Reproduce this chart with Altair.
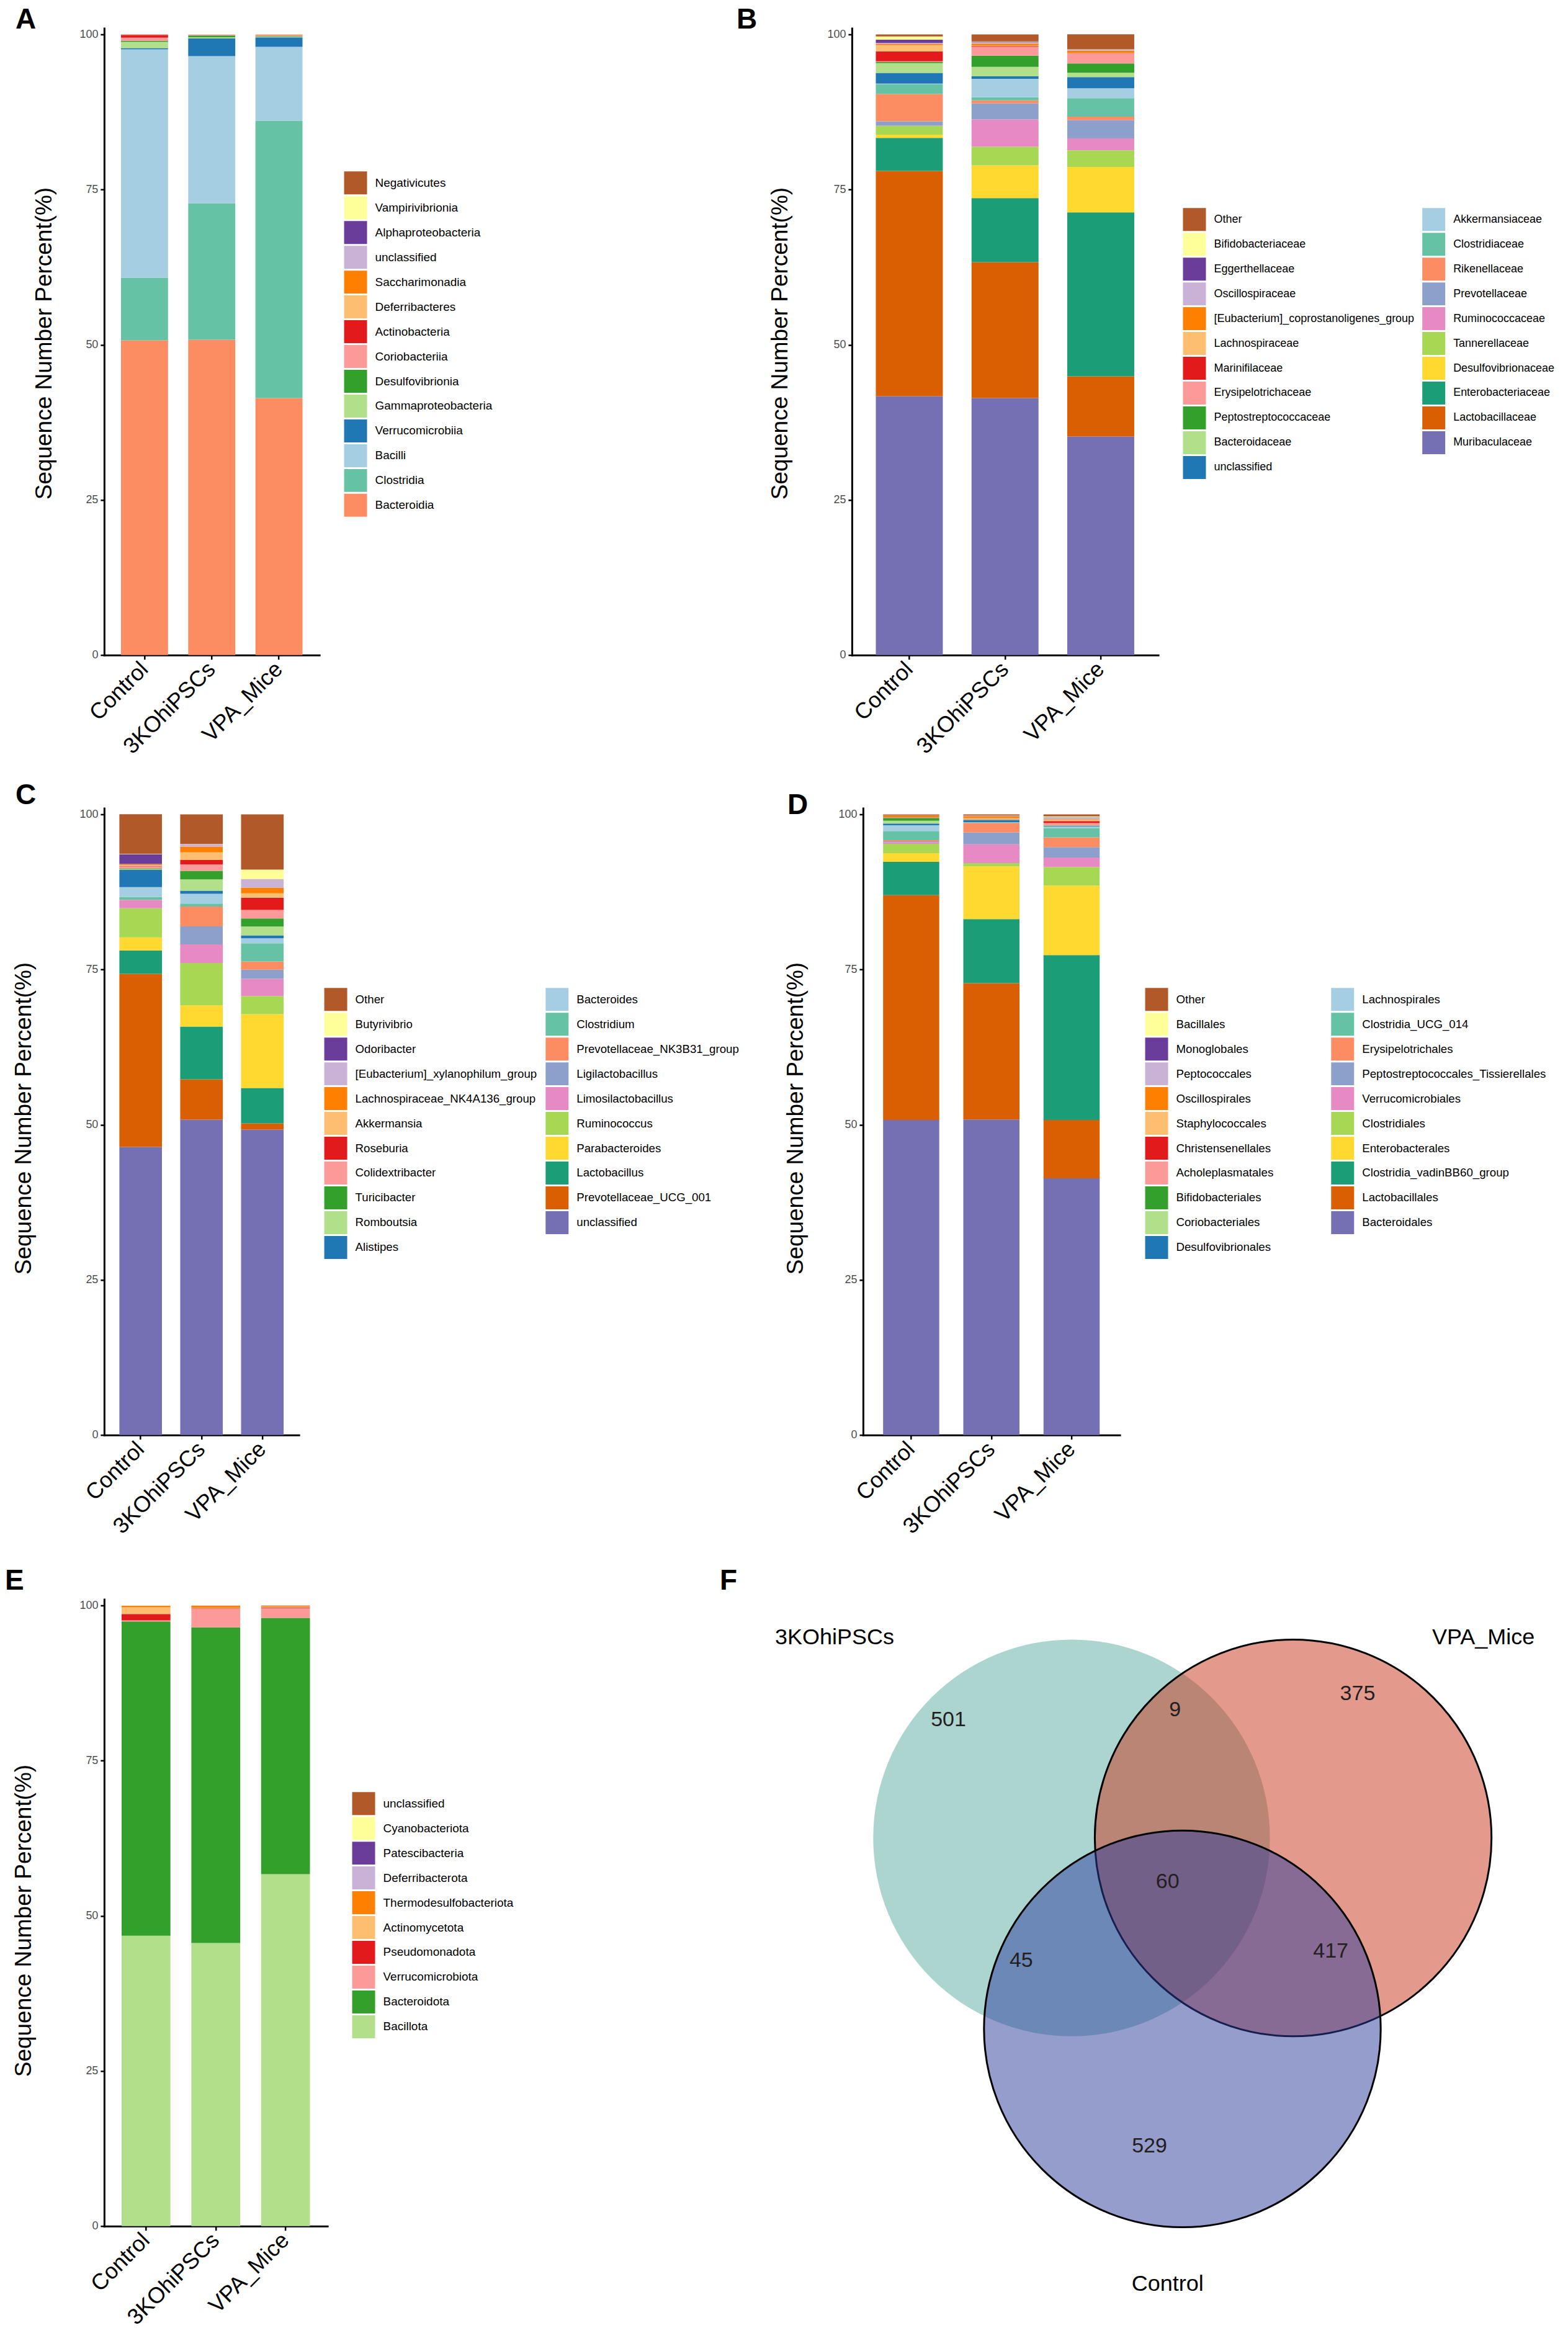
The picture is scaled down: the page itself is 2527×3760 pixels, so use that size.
import math
import altair as alt
import pandas as pd

groups = ["Control", "3KOhiPSCs", "VPA_Mice"]

# colour order used from the bottom of each stack upwards (last n entries are used)
palette = ["#7570B3", "#D95F02", "#1B9E77", "#FFD92F", "#A6D854", "#E78AC3", "#8DA0CB",
           "#FC8D62", "#66C2A5", "#A6CEE3", "#1F78B4", "#B2DF8A", "#33A02C", "#FB9A99",
           "#E31A1C", "#FDBF6F", "#FF7F00", "#CAB2D6", "#6A3D9A", "#FFFF99", "#B15928"]

# ---------------- Panel A (class) : bottom -> top ----------------
a_taxa = ["Bacteroidia", "Clostridia", "Bacilli", "Verrucomicrobiia", "Gammaproteobacteria",
          "Desulfovibrionia", "Coriobacteriia", "Actinobacteria", "Deferribacteres",
          "Saccharimonadia", "unclassified", "Alphaproteobacteria", "Vampirivibrionia", "Negativicutes"]
a_control = [50.7, 10.1, 36.8, 0.2, 1.0, 0.17, 0.5, 0.45, 0.03, 0.02, 0.01, 0.01, 0.005, 0.005]
a_3ko = [50.8, 22.0, 23.7, 2.87, 0.17, 0.27, 0.1, 0.03, 0.03, 0.01, 0.01, 0.01, 0.0, 0.0]
a_vpa = [41.4, 44.7, 11.9, 1.53, 0.1, 0.1, 0.15, 0.05, 0.05, 0.02, 0.0, 0.0, 0.0, 0.0]

# ---------------- Panel B (family) ----------------
b_taxa = ["Muribaculaceae", "Lactobacillaceae", "Enterobacteriaceae", "Desulfovibrionaceae",
          "Tannerellaceae", "Ruminococcaceae", "Prevotellaceae", "Rikenellaceae", "Clostridiaceae",
          "Akkermansiaceae", "unclassified", "Bacteroidaceae", "Peptostreptococcaceae",
          "Erysipelotrichaceae", "Marinifilaceae", "Lachnospiraceae",
          "[Eubacterium]_coprostanoligenes_group", "Oscillospiraceae", "Eggerthellaceae",
          "Bifidobacteriaceae", "Other"]
b_control = [41.7, 36.3, 5.33, 0.53, 1.4, 0.05, 0.7, 4.4, 1.53, 0.13, 1.73, 1.57, 0.17, 0.13,
             1.6, 1.0, 0.17, 0.17, 0.53, 0.53, 0.33]
b_3ko = [41.4, 21.9, 10.33, 5.27, 3.0, 4.4, 2.6, 0.47, 0.5, 2.97, 0.4, 1.53, 1.8, 1.43,
         0.13, 0.1, 0.3, 0.2, 0.1, 0.03, 1.13]
b_vpa = [35.2, 9.7, 26.43, 7.33, 2.67, 1.93, 2.93, 0.57, 2.97, 1.6, 1.8, 0.7, 1.5, 1.6,
         0.05, 0.05, 0.33, 0.2, 0.02, 0.02, 2.43]

# ---------------- Panel C (genus) ----------------
c_taxa = ["unclassified", "Prevotellaceae_UCG_001", "Lactobacillus", "Parabacteroides",
          "Ruminococcus", "Limosilactobacillus", "Ligilactobacillus", "Prevotellaceae_NK3B31_group",
          "Clostridium", "Bacteroides", "Alistipes", "Romboutsia", "Turicibacter", "Colidextribacter",
          "Roseburia", "Akkermansia", "Lachnospiraceae_NK4A136_group",
          "[Eubacterium]_xylanophilum_group", "Odoribacter", "Butyrivibrio", "Other"]
c_control = [46.4, 27.9, 3.77, 2.1, 4.7, 1.33, 0.02, 0.02, 0.47, 1.57, 2.77, 0.13, 0.13, 0.3,
             0.1, 0.13, 0.1, 0.07, 1.6, 0.03, 6.37]
c_3ko = [50.8, 6.5, 8.5, 3.43, 6.83, 3.0, 2.9, 3.2, 0.47, 1.57, 0.5, 1.83, 1.37, 1.03, 0.73,
         1.2, 0.93, 0.4, 0.01, 0.01, 4.78]
c_vpa = [49.2, 1.0, 5.7, 11.9, 2.93, 2.77, 1.47, 1.33, 2.93, 0.8, 0.47, 1.43, 1.3, 1.37, 1.97,
         0.7, 0.9, 1.37, 0.03, 1.53, 8.9]

# ---------------- Panel D (order) ----------------
d_taxa = ["Bacteroidales", "Lactobacillales", "Clostridia_vadinBB60_group", "Enterobacterales",
          "Clostridiales", "Verrucomicrobiales", "Peptostreptococcales_Tissierellales",
          "Erysipelotrichales", "Clostridia_UCG_014", "Lachnospirales", "Desulfovibrionales",
          "Coriobacteriales", "Bifidobacteriales", "Acholeplasmatales", "Christensenellales",
          "Staphylococcales", "Oscillospirales", "Peptococcales", "Monoglobales", "Bacillales", "Other"]
d_control = [50.76, 36.21, 5.37, 1.4, 1.5, 0.27, 0.13, 0.2, 1.47, 0.93, 0.27, 0.47, 0.43, 0.05,
             0.05, 0.03, 0.27, 0.02, 0.02, 0.02, 0.13]
d_3ko = [50.84, 21.96, 10.33, 8.5, 0.53, 3.0, 1.93, 1.53, 0.05, 0.05, 0.33, 0.05, 0.05, 0.1,
         0.05, 0.1, 0.33, 0.05, 0.03, 0.03, 0.15]
d_vpa = [41.35, 9.41, 26.57, 11.2, 3.0, 1.53, 1.67, 1.57, 1.5, 0.2, 0.13, 0.05, 0.05, 0.37,
         0.33, 0.2, 0.1, 0.23, 0.05, 0.17, 0.32]

# ---------------- Panel E (phylum) ----------------
e_taxa = ["Bacillota", "Bacteroidota", "Verrucomicrobiota", "Pseudomonadota", "Actinomycetota",
          "Thermodesulfobacteriota", "Deferribacterota", "Patescibacteria", "Cyanobacteriota",
          "unclassified"]
e_control = [46.78, 50.65, 0.17, 1.03, 1.07, 0.25, 0.02, 0.01, 0.01, 0.01]
e_3ko = [45.6, 50.87, 3.03, 0.05, 0.1, 0.33, 0.01, 0.0, 0.0, 0.01]
e_vpa = [56.7, 41.3, 1.57, 0.13, 0.1, 0.15, 0.01, 0.01, 0.01, 0.02]

# ---------------- Panel F (Venn) ----------------
venn_sets = ["3KOhiPSCs", "VPA_Mice", "Control"]
venn_cx = [-0.495, 0.495, 0.0]
venn_cy = [0.0, 0.0, -0.853]
venn_fill = ["#5BABA1", "#C73519", "#2B3B9B"]
venn_stroke = ["transparent", "black", "black"]
venn_counts = [501, 9, 375, 60, 45, 417, 529]
venn_count_x = [-1.045, -0.033, 0.783, -0.066, -0.72, 0.663, -0.147]
venn_count_y = [0.528, 0.571, 0.643, -0.197, -0.548, -0.507, -1.377]
venn_label_x = [-1.554, 1.345, -0.066]
venn_label_y = [0.897, 0.897, -1.994]

FONT = "Liberation Sans"
UNIT_PX = 361          # venn radius in px
BAR_H = 1011           # 0..101 %


def bar_panel(taxa, vals, view_w, x_rng, view_h, y_rng, ncols, leg_xy, col_pad,
              title_xy, letter, letter_xy, y_off=0, leg_font=18.7):
    n = len(taxa)
    colors = palette[-n:]
    rows = []
    for gi, g in enumerate(groups):
        for ti, t in enumerate(taxa):
            rows.append({"group": g, "taxon": t, "value": vals[gi][ti], "rank": ti})
    df = pd.DataFrame(rows)
    dom = taxa[::-1]
    rng = colors[::-1]
    bars = alt.Chart(df).mark_bar().encode(
        x=alt.X("group:N", sort=groups,
                scale=alt.Scale(range=x_rng, paddingInner=0.3, paddingOuter=0.25),
                axis=alt.Axis(title=None, labelAngle=315, labelAlign="right", labelBaseline="top",
                              labelFontSize=36, labelColor="black", labelPadding=-2,
                              labelOffset=-12, labelLimit=600,
                              tickSize=7, tickWidth=2.5, tickColor="black",
                              domainColor="black", domainWidth=3, domainCap="square")),
        y=alt.Y("value:Q", stack="zero",
                scale=alt.Scale(domain=[0, 101], range=y_rng, nice=False, zero=True),
                axis=alt.Axis(values=[0, 25, 50, 75, 100], grid=False, labelFlush=False,
                              offset=y_off,
                              labelFontSize=18, labelColor="#4D4D4D", labelPadding=4,
                              tickSize=6, tickWidth=2.5, tickColor="black",
                              domainColor="black", domainWidth=3, domainCap="square",
                              title="Sequence Number Percent(%)", titleFontSize=37,
                              titleFontWeight="normal", titleColor="black",
                              titleAngle=270, titleAlign="center", titleBaseline="middle",
                              titleX=title_xy[0], titleY=title_xy[1])),
        color=alt.Color("taxon:N", scale=alt.Scale(domain=dom, range=rng),
                        legend=alt.Legend(title=None, orient="none", legendX=leg_xy[0],
                                          legendY=leg_xy[1], columns=ncols, direction="vertical",
                                          symbolType="square", symbolSize=1369,
                                          symbolStrokeWidth=0, symbolOpacity=1,
                                          labelFontSize=leg_font, labelColor="black",
                                          labelLimit=1000,
                                          labelOffset=13, rowPadding=3, columnPadding=col_pad,
                                          padding=0, gridAlign="each")),
        order=alt.Order("rank:Q", sort="ascending"),
    )
    let = alt.Chart(pd.DataFrame({"t": [letter]})).mark_text(
        fontSize=46, fontWeight="bold", align="left", baseline="alphabetic", color="black"
    ).encode(text="t:N", x=alt.value(letter_xy[0]), y=alt.value(letter_xy[1]))
    return alt.layer(bars, let).properties(width=view_w, height=view_h)


# left column views start at x=164 (reference px), right column views at x=1370
pA = bar_panel(a_taxa, [a_control, a_3ko, a_vpa], 360, [0, 347], BAR_H, [BAR_H, 0], 1,
               (387, 231), 10, (-96, 508), "A", (-143, 1), leg_font=19)
pB = bar_panel(b_taxa, [b_control, b_3ko, b_vpa], 494, [0, 494], BAR_H, [BAR_H, 0], 2,
               (534, 290), 12, (-115, 508), "B", (-186, 1), leg_font=18)
pC = bar_panel(c_taxa, [c_control, c_3ko, c_vpa], 360, [0, 314], BAR_H, [BAR_H, 0], 2,
               (355, 290), 14, (-129, 500), "C", (-143, -6))
pD = bar_panel(d_taxa, [d_control, d_3ko, d_vpa], 432, [18, 432], BAR_H, [BAR_H, 0], 2,
               (473, 290), 93, (-108, 500), "D", (-104, 10), y_off=-18)
pE = bar_panel(e_taxa, [e_control, e_3ko, e_vpa], 360, [0, 360], BAR_H + 18, [BAR_H + 18, 18], 1,
               (400, 329), 10, (-129, 536), "E", (-160, 3), leg_font=19)

# ---------------- Venn ----------------
VX = [-1.4765, 1.7]
VY = [-2.111, 1.1163]
xs = alt.Scale(domain=VX, nice=False, zero=False)
ys = alt.Scale(domain=VY, nice=False, zero=False)
venn_df = pd.DataFrame({"set": venn_sets, "x": venn_cx, "y": venn_cy, "idx": [0, 1, 2]})
circles = alt.Chart(venn_df).mark_circle(
    opacity=1, fillOpacity=0.5, strokeOpacity=1, strokeWidth=3, size=math.pi * UNIT_PX ** 2
).encode(
    x=alt.X("x:Q", scale=xs, axis=None),
    y=alt.Y("y:Q", scale=ys, axis=None),
    fill=alt.Fill("set:N", scale=alt.Scale(domain=venn_sets, range=venn_fill), legend=None),
    stroke=alt.Stroke("set:N", scale=alt.Scale(domain=venn_sets, range=venn_stroke), legend=None),
    order=alt.Order("idx:Q"),
)
cnt_df = pd.DataFrame({"x": venn_count_x, "y": venn_count_y, "n": [str(v) for v in venn_counts]})
counts = alt.Chart(cnt_df).mark_text(fontSize=34, color="#231F20", baseline="middle").encode(
    x=alt.X("x:Q", scale=xs, axis=None), y=alt.Y("y:Q", scale=ys, axis=None), text="n:N")
lab_df = pd.DataFrame({"x": venn_label_x, "y": venn_label_y, "name": venn_sets})
labels = alt.Chart(lab_df).mark_text(fontSize=36, color="black", baseline="middle").encode(
    x=alt.X("x:Q", scale=xs, axis=None), y=alt.Y("y:Q", scale=ys, axis=None), text="name:N")
letF = alt.Chart(pd.DataFrame({"t": ["F"]})).mark_text(
    fontSize=46, fontWeight="bold", align="left", baseline="alphabetic", color="black"
).encode(text="t:N", x=alt.value(-213), y=alt.value(3))
pF = alt.layer(circles, counts, labels, letF).properties(
    width=(VX[1] - VX[0]) * UNIT_PX, height=(VY[1] - VY[0]) * UNIT_PX)

chart = alt.concat(pA, pB, pC, pD, pE, pF, columns=2, bounds="flush", align="each",
                   spacing={"row": 247, "column": 846},
                   padding=0, background="white")
chart = chart.resolve_scale(color="independent", x="independent", y="independent")
chart = chart.configure(font=FONT).configure_view(strokeWidth=0)

chart.save("out.html", embed_options={"renderer": "svg", "actions": False})
